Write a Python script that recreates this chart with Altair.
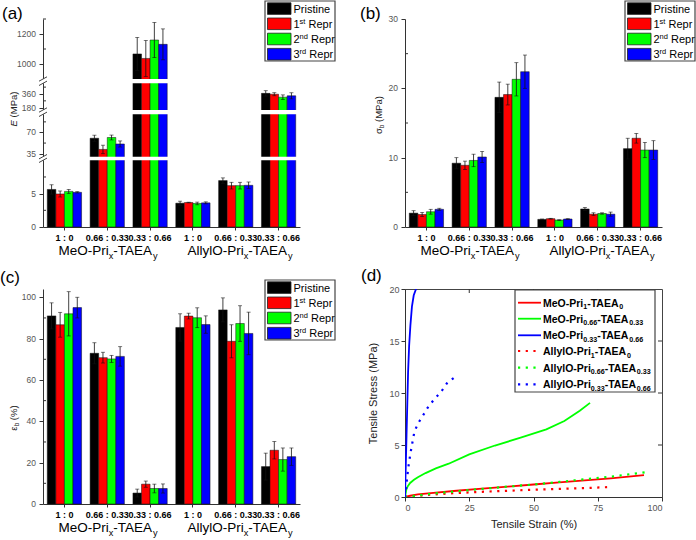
import altair as alt
import pandas as pd

FONT = "Liberation Sans"

# ---------------- data ----------------
series = ["Pristine", "1st Repr", "2nd Repr", "3rd Repr"]
series_colors = ["#000000", "#ff0000", "#00ff00", "#0000ff"]
groups = ["M1", "M2", "M3", "A1", "A2", "A3"]

# (a) Young's modulus E (MPa)
E_pristine = [5.63, 60.5, 1067, 3.57, 6.96, 368]
E_pristine_err = [0.7, 5, 110, 0.3, 0.4, 35]
E_rep1 = [4.95, 42, 1037, 3.67, 6.2, 357]
E_rep1_err = [0.45, 7, 120, 0.05, 0.5, 20]
E_rep2 = [5.34, 61.7, 1160, 3.53, 6.2, 318]
E_rep2_err = [0.3, 4, 117, 0.2, 0.5, 30]
E_rep3 = [5.2, 51, 1131, 3.62, 6.25, 336]
E_rep3_err = [0.1, 5, 103, 0.15, 0.5, 40]
E_ticks = [0, 5, 35, 70, 180, 360, 1000, 1200]
E_minor = [2.5, 7.5, 52.5, 87.5, 270, 450, 1100, 1300]

# (b) stress at break (MPa)
S_pristine = [2.0, 9.2, 18.7, 1.1, 2.6, 11.3]
S_pristine_err = [0.35, 0.8, 2.2, 0.05, 0.2, 1.5]
S_rep1 = [1.8, 8.9, 19.1, 1.2, 1.85, 12.8]
S_rep1_err = [0.3, 0.6, 1.5, 0.05, 0.2, 0.7]
S_rep2 = [2.2, 9.6, 21.3, 1.0, 1.95, 11.1]
S_rep2_err = [0.35, 0.9, 2.4, 0.05, 0.1, 1.1]
S_rep3 = [2.55, 10.1, 22.4, 1.15, 1.85, 11.1]
S_rep3_err = [0.15, 0.8, 2.4, 0.05, 0.3, 1.35]
S_ticks = [0, 10, 20, 30]
S_minor = [5, 15, 25]

# (c) strain at break (%)
B_pristine = [91.0, 72.9, 5.3, 85.4, 93.9, 18.1]
B_pristine_err = [6.3, 5.1, 1.9, 6.6, 5.8, 6.5]
B_rep1 = [86.7, 70.8, 9.6, 90.9, 78.7, 26.0]
B_rep1_err = [6.0, 2.6, 1.5, 1.4, 8.0, 4.2]
B_rep2 = [92.0, 70.2, 7.5, 90.1, 87.3, 21.5]
B_rep2_err = [10.7, 1.7, 2.1, 4.8, 8.6, 5.6]
B_rep3 = [95.0, 71.4, 7.5, 86.8, 82.5, 22.9]
B_rep3_err = [5.0, 4.7, 2.2, 4.2, 10.3, 4.2]
B_ticks = [0, 20, 40, 60, 80, 100]
B_minor = [10, 30, 50, 70, 90]

# (d) stress-strain curves
curve_names = ["MeO-Pri1-TAEA0", "MeO-Pri0.66-TAEA0.33", "MeO-Pri0.33-TAEA0.66",
               "AllylO-Pri1-TAEA0", "AllylO-Pri0.66-TAEA0.33", "AllylO-Pri0.33-TAEA0.66"]
curve_colors = ["#ff0000", "#00ff00", "#0000ff", "#ff0000", "#00ff00", "#0000ff"]
meo1_strain = [0, 2, 5, 10, 20, 30, 40, 50, 60, 70, 80, 93]
meo1_stress = [0, 0.12, 0.25, 0.38, 0.6, 0.8, 1.0, 1.2, 1.4, 1.6, 1.8, 2.1]
meo066_strain = [0, 0.5, 1, 2, 3.5, 5, 8, 12, 17, 25, 35, 45, 55, 62, 68, 72]
meo066_stress = [0, 0.7, 1.0, 1.35, 1.65, 1.9, 2.3, 2.75, 3.2, 4.1, 4.95, 5.7, 6.5, 7.3, 8.3, 9.05]
meo033_strain = [0, 0.2, 0.4, 0.6, 0.9, 1.2, 1.6, 2.1, 2.7, 3.4, 4.3]
meo033_stress = [0, 2, 4, 6, 9, 12, 14.5, 16.5, 18.3, 19.4, 20]
ally1_strain = [0, 5, 10, 20, 30, 40, 50, 60, 70, 80]
ally1_stress = [0, 0.12, 0.22, 0.38, 0.5, 0.6, 0.7, 0.78, 0.86, 0.96]
ally066_strain = [0, 5, 10, 20, 30, 40, 50, 60, 70, 80, 94]
ally066_stress = [0, 0.15, 0.3, 0.55, 0.78, 1.0, 1.2, 1.45, 1.7, 1.95, 2.4]
ally033_strain = [0, 0.4, 0.8, 1.3, 1.8, 2.3, 3.0, 3.6, 4.9, 6.9, 9.1, 11.4, 14.0, 16.5, 19.3]
ally033_stress = [0, 0.8, 1.8, 2.85, 3.7, 4.45, 5.4, 6.2, 7.0, 7.8, 8.7, 9.4, 10.1, 11.0, 11.5]
strain_ticks = [0, 25, 50, 75, 100]
stress_ticks = [0, 5, 10, 15, 20]

# ---------------- helpers ----------------
W_REG = {' ': 278, '(': 333, ')': 333, '-': 333, '.': 278, ':': 278, '%': 889,
         'A': 667, 'E': 667, 'M': 833, 'O': 778, 'P': 667, 'R': 722, 'S': 667, 'T': 611,
         'a': 556, 'b': 556, 'd': 556, 'e': 556, 'i': 222, 'l': 222, 'n': 556, 'p': 556,
         'r': 333, 's': 500, 't': 278, 'x': 500, 'y': 500, 'σ': 600, 'ε': 450}
W_BOLD = {' ': 278, '(': 333, ')': 333, '-': 333, '.': 278, ':': 333, '%': 889,
          'A': 722, 'E': 667, 'M': 833, 'O': 778, 'P': 667, 'R': 722, 'S': 667, 'T': 611,
          'a': 556, 'd': 611, 'e': 556, 'i': 278, 'l': 278, 'n': 611, 'p': 611, 'r': 389,
          's': 556, 't': 333, 'x': 556, 'y': 556}

ONE = pd.DataFrame({"k": [0]})


def tw(s, size, bold=False):
    table = W_BOLD if bold else W_REG
    return sum(table.get(c, 556) for c in s) / 1000.0 * size


def rich(pieces, x, y, size, bold=False, angle=0, anchor="center", color="#000000"):
    sizes, widths = [], []
    for t, kind in pieces:
        fs = size * 0.68 if kind in ("sub", "sup") else size
        sizes.append(fs)
        widths.append(tw(t, fs, bold))
    total = sum(widths)
    off = -total / 2 if anchor == "center" else 0.0
    layers = []
    for (t, kind), fs, w in zip(pieces, sizes, widths):
        lead = len(t) - len(t.lstrip(" "))
        txt = t.strip(" ")
        d = off + tw(" " * lead, fs, bold)
        dy = size * 0.28 if kind == "sub" else (-size * 0.38 if kind == "sup" else 0)
        layers.append(
            alt.Chart(ONE).mark_text(
                text=txt, font=FONT, fontSize=fs,
                fontWeight="bold" if bold else "normal",
                fontStyle="italic" if kind == "it" else "normal",
                align="left", baseline="alphabetic", angle=angle, dx=d, dy=dy, color=color,
            ).encode(x=alt.value(x), y=alt.value(y))
        )
        off += w
    return layers


def long_df(vals, errs):
    rows = []
    for s, v, e in zip(series, vals, errs):
        for g, vv, ee in zip(groups, v, e):
            rows.append({"group": g, "series": s, "value": vv, "lo": vv - ee, "hi": vv + ee})
    return pd.DataFrame(rows)


label_expr = ("datum.value == 'M1' || datum.value == 'A1' ? '1 : 0' : "
              "(datum.value == 'M2' || datum.value == 'A2' ? '0.66 : 0.33' : '0.33 : 0.66')")

W = 257
HA = 208
HC = 215
GAP_COL = 105
GAP_ROW = 62


def bar_legend(lx, ly):
    L = [alt.Chart(ONE).mark_rect(fill="white", stroke="#444", strokeWidth=1.2).encode(
        x=alt.value(lx), x2=alt.value(lx + 70), y=alt.value(ly), y2=alt.value(ly + 60))]
    labels = [[("Pristine", "n")],
              [("1", "n"), ("st", "sup"), (" Repr", "n")],
              [("2", "n"), ("nd", "sup"), (" Repr", "n")],
              [("3", "n"), ("rd", "sup"), (" Repr", "n")]]
    for i in range(4):
        cy = ly + 7.6 + 15.2 * i
        L.append(alt.Chart(ONE).mark_rect(fill=series_colors[i], stroke="#222", strokeWidth=0.8).encode(
            x=alt.value(lx + 2.5), x2=alt.value(lx + 26), y=alt.value(cy - 5.8), y2=alt.value(cy + 5.8)))
        L += rich(labels[i], lx + 28.5, cy + 4, 11, anchor="left")
    return L


def bar_panel(df, yscale, ticks, minor, height, title_pieces, title_x, title_y, letter, letter_xy,
              legend_xy, breaks=None):
    base = alt.Chart(df).encode(
        x=alt.X("group:N", sort=groups,
                scale=alt.Scale(domain=groups, paddingInner=0.2, paddingOuter=0.1),
                axis=alt.Axis(title=None, labelExpr=label_expr, labelFontWeight="bold",
                              labelFontSize=9, labelColor="#000", labelAngle=0, tickSize=3,
                              labelPadding=3, labelOverlap=False, domainColor="#333",
                              tickColor="#333")),
        xOffset=alt.XOffset("series:N", sort=series,
                            scale=alt.Scale(domain=series, paddingInner=0, paddingOuter=0)),
    )
    yaxis = alt.Axis(values=ticks, tickCount=len(ticks) + 2, title=None, labels=False,
                     tickSize=4, domainColor="#333", tickColor="#333", grid=False)
    bars = base.mark_bar(stroke="#111", strokeWidth=0.5).encode(
        y=alt.Y("value:Q", scale=yscale, axis=yaxis),
        color=alt.Color("series:N", scale=alt.Scale(domain=series, range=series_colors), legend=None),
    )
    rules = base.mark_rule(color="#111", strokeWidth=0.8).encode(y="lo:Q", y2="hi:Q")
    cap_hi = base.mark_tick(orient="horizontal", size=4, thickness=0.8, color="#111").encode(y="hi:Q")
    cap_lo = base.mark_tick(orient="horizontal", size=4, thickness=0.8, color="#111").encode(y="lo:Q")
    minor_ticks = alt.Chart(pd.DataFrame({"m": minor})).mark_rule(color="#333", strokeWidth=1).encode(
        x=alt.value(0), x2=alt.value(3), y=alt.Y("m:Q"))
    tick_labels = alt.Chart(pd.DataFrame({"t": ticks[1:], "s": [str(t) for t in ticks[1:]]})).mark_text(
        align="right", baseline="middle", font=FONT, fontSize=8.5, color="#555", dx=-1).encode(
        x=alt.value(-6), y=alt.Y("t:Q"), text="s:N")
    layers = [tick_labels, bars, rules, cap_hi, cap_lo, minor_ticks]
    if breaks:
        for gt, gb in breaks:
            layers.append(alt.Chart(ONE).mark_rect(fill="white").encode(
                x=alt.value(-5), x2=alt.value(W + 2), y=alt.value(gt), y2=alt.value(gb)))
            for g in (gt, gb):
                layers.append(alt.Chart(ONE).mark_rule(color="#444", strokeWidth=1).encode(
                    x=alt.value(-4), x2=alt.value(4), y=alt.value(g + 2.2), y2=alt.value(g - 2.2)))
    grp_y = height + 28
    layers += rich([("MeO-Pri", "n"), ("x", "sub"), ("-TAEA", "n"), ("y", "sub")], 65, grp_y, 13.5)
    layers += rich([("AllylO-Pri", "n"), ("x", "sub"), ("-TAEA", "n"), ("y", "sub")], 197, grp_y, 13.5)
    layers += rich(title_pieces, title_x, title_y, 9.5, angle=270, color="#222")
    layers += rich([(letter, "n")], letter_xy[0], letter_xy[1], 17, anchor="left")
    layers += bar_legend(*legend_xy)
    return alt.layer(*layers).properties(width=W, height=height)


# ---------------- panel (a) ----------------
E_scale = alt.Scale(domain=[0, 10, 30, 100, 150, 500, 900, 1300],
                    range=[HA, 141.3, 137.7, 95.3, 91, 64.3, 60, 0], nice=False, zero=False)
panel_a = bar_panel(
    long_df([E_pristine, E_rep1, E_rep2, E_rep3], [E_pristine_err, E_rep1_err, E_rep2_err, E_rep3_err]),
    E_scale, E_ticks, E_minor, HA,
    [("E", "it"), (" (MPa)", "n")], -26.5, 90, "(a)", (-41, 0), (222, -18),
    breaks=[(60, 64.3), (91, 95.3), (137.7, 141.3)])

# ---------------- panel (b) ----------------
panel_b = bar_panel(
    long_df([S_pristine, S_rep1, S_rep2, S_rep3], [S_pristine_err, S_rep1_err, S_rep2_err, S_rep3_err]),
    alt.Scale(domain=[0, 30], nice=False), S_ticks, S_minor, HA,
    [("σ", "n"), ("b", "sub"), (" (MPa)", "n")], -23.5, 96, "(b)", (-45, 0), (220, -18))

# ---------------- panel (c) ----------------
panel_c = bar_panel(
    long_df([B_pristine, B_rep1, B_rep2, B_rep3], [B_pristine_err, B_rep1_err, B_rep2_err, B_rep3_err]),
    alt.Scale(domain=[0, 104], nice=False), B_ticks, B_minor, HC,
    [("ε", "n"), ("b", "sub"), (" (%)", "n")], -26.5, 129, "(c)", (-43, -6), (222, -9))

# ---------------- panel (d) ----------------
curve_data = [(meo1_strain, meo1_stress), (meo066_strain, meo066_stress), (meo033_strain, meo033_stress),
              (ally1_strain, ally1_stress), (ally066_strain, ally066_stress), (ally033_strain, ally033_stress)]
rows = []
for name, (xs, ys) in zip(curve_names, curve_data):
    for i, (xv, yv) in enumerate(zip(xs, ys)):
        rows.append({"name": name, "strain": xv, "stress": yv, "idx": i,
                     "style": "solid" if name.startswith("MeO") else "dot"})
curves = pd.DataFrame(rows)

sx = alt.Scale(domain=[0, 100], nice=False)
sy = alt.Scale(domain=[0, 20], nice=False)
xd = alt.X("strain:Q", scale=sx,
           axis=alt.Axis(values=strain_ticks, title="Tensile Strain (%)", labelFontSize=9,
                         labelColor="#555", titleFontSize=11, titleFontWeight="normal", titleColor="#222",
                         titlePadding=6, tickSize=4, labelPadding=2, grid=False,
                         domainColor="#333", tickColor="#333"))
yd = alt.Y("stress:Q", scale=sy,
           axis=alt.Axis(values=stress_ticks, title="Tensile Stress (MPa)", labelFontSize=9,
                         labelColor="#555", titleFontSize=11, titleFontWeight="normal", titleColor="#222",
                         titlePadding=10, tickSize=4, labelPadding=2, grid=False,
                         domainColor="#333", tickColor="#333"))
cd = alt.Color("name:N", scale=alt.Scale(domain=curve_names, range=curve_colors), legend=None)
solid = alt.Chart(curves).transform_filter("datum.style == 'solid'").mark_line(
    strokeWidth=1.8, clip=True).encode(x=xd, y=yd, color=cd, detail="name:N", order="idx:Q")
dotted = alt.Chart(curves).transform_filter("datum.style == 'dot'").mark_line(
    strokeWidth=2.2, strokeDash=[2.2, 5.5], clip=True).encode(x=xd, y=yd, color=cd, detail="name:N", order="idx:Q")

top_ticks = alt.Chart(pd.DataFrame({"t": strain_ticks[1:-1]})).mark_rule(color="#333").encode(
    x=alt.X("t:Q"), y=alt.value(0), y2=alt.value(4))
right_ticks = alt.Chart(pd.DataFrame({"t": stress_ticks[1:-1]})).mark_rule(color="#333").encode(
    y=alt.Y("t:Q"), x=alt.value(W - 4), x2=alt.value(W))

d_layers = [solid, dotted, top_ticks, right_ticks]
d_layers.append(alt.Chart(ONE).mark_rect(fill="white", stroke="#444", strokeWidth=1.2).encode(
    x=alt.value(110), x2=alt.value(250), y=alt.value(1), y2=alt.value(103)))
curve_pieces = [
    [("MeO-Pri", "n"), ("1", "sub"), ("-TAEA", "n"), ("0", "sub")],
    [("MeO-Pri", "n"), ("0.66", "sub"), ("-TAEA", "n"), ("0.33", "sub")],
    [("MeO-Pri", "n"), ("0.33", "sub"), ("-TAEA", "n"), ("0.66", "sub")],
    [("AllylO-Pri", "n"), ("1", "sub"), ("-TAEA", "n"), ("0", "sub")],
    [("AllylO-Pri", "n"), ("0.66", "sub"), ("-TAEA", "n"), ("0.33", "sub")],
    [("AllylO-Pri", "n"), ("0.33", "sub"), ("-TAEA", "n"), ("0.66", "sub")],
]
row_y = [13.7, 29.7, 46.3, 62.0, 78.7, 95.3]
for i in range(6):
    kw = dict(color=curve_colors[i], strokeWidth=1.8)
    if i >= 3:
        kw = dict(color=curve_colors[i], strokeWidth=2.2, strokeDash=[2.2, 5.5])
    d_layers.append(alt.Chart(ONE).mark_rule(**kw).encode(
        x=alt.value(113), x2=alt.value(136), y=alt.value(row_y[i])))
    d_layers += rich(curve_pieces[i], 138, row_y[i] + 3.8, 10.5, bold=True, anchor="left")
d_layers += rich([("(d)", "n")], -44, -8, 17, anchor="left")

# zero labels of the three bar panels' value axes, drawn last (positions relative to panel d)
col_shift = W + GAP_COL          # distance between the two columns
row_shift = HA + GAP_ROW         # distance between the two rows
zero_spots = [(-col_shift - 7, HA - row_shift),   # panel (a)
              (-7, HA - row_shift),               # panel (b)
              (-col_shift - 7, HC)]               # panel (c)
for zx, zy in zero_spots:
    d_layers.append(alt.Chart(ONE).mark_text(
        text="0", align="right", baseline="middle", font=FONT, fontSize=8.5, color="#555").encode(
        x=alt.value(zx), y=alt.value(zy)))

panel_d = alt.layer(*d_layers).properties(width=W, height=HA,
                                           view=alt.ViewBackground(stroke="#444", strokeWidth=1))

chart = alt.concat(panel_a, panel_b, panel_c, panel_d, columns=2,
                   spacing=alt.RowColnumber(row=GAP_ROW, column=GAP_COL)).resolve_scale(
    color="independent", x="independent", y="independent").properties(
    bounds="flush", padding=0, background="white"
).configure_view(stroke=None).configure_axis(labelFont=FONT, titleFont=FONT)

chart.save("out.html", embed_options={"renderer": "svg", "actions": False})
